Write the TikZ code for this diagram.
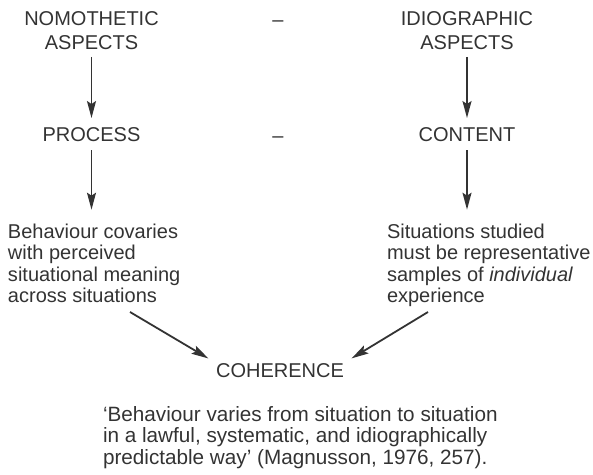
\documentclass[tikz,border=0pt]{standalone}
\usepackage{fontspec}
\setmainfont{Liberation Sans}
\usetikzlibrary{arrows.meta}
\definecolor{ink}{HTML}{333333}
\begin{document}
\begin{tikzpicture}[x=1pt,y=1pt,
  every node/.style={inner sep=0pt,outer sep=0pt,text=ink,font=\fontsize{20}{24}\selectfont},
  arr/.style={draw=ink,line width=1.8pt,-{Stealth[length=17pt,width=9pt,inset=3pt]}},
  blk/.style={align=left,font=\fontsize{20}{21.5}\selectfont},
  quote/.style={align=left,font=\fontsize{20.7}{21.5}\selectfont}]
\useasboundingbox (0,0) rectangle (593,474);
% top row
\node[align=center,anchor=south] (nom) at (91.5,424) {NOMOTHETIC\\ASPECTS};
\node[align=center,anchor=south] (idio) at (467,424) {IDIOGRAPHIC\\ASPECTS};
\node[anchor=base] (d1) at (278,447) {–};
% middle row
\node[anchor=base] (proc) at (91.5,332) {PROCESS};
\node[anchor=base] (cont) at (467,332) {CONTENT};
\node[anchor=base] (d2) at (278,331) {–};
% text blocks
\node[blk,anchor=north west] (lb) at (8,250.3) {Behaviour covaries\\with perceived\\situational meaning\\across situations};
\node[blk,anchor=north west] (rb) at (387,250.3) {Situations studied\\must be representative\\samples of \textit{individual}\\experience};
% coherence
\node[anchor=base] (coh) at (280,97) {COHERENCE};
\node[quote,anchor=north west] (q) at (103,68) {‘Behaviour varies from situation to situation\\in a lawful, systematic, and idiographically\\predictable way’ (Magnusson, 1976, 257).};
% connectors
\draw[arr,shorten <=7pt,shorten >=10pt] (nom.south) -- (proc.north);
\draw[arr,shorten <=7pt,shorten >=10pt] (idio.south) -- (cont.north);
\draw[arr,shorten <=8pt,shorten >=14pt] (proc.south) -- (proc.south |- lb.north);
\draw[arr,shorten <=8pt,shorten >=14pt] (cont.south) -- (cont.south |- rb.north);
\coordinate (la) at (130,162);
\coordinate (ra) at (428,162);
\draw[arr,shorten >=9pt] (la) -- (coh.north west);
\draw[arr,shorten >=9pt] (ra) -- (coh.north east);
\end{tikzpicture}
\end{document}
